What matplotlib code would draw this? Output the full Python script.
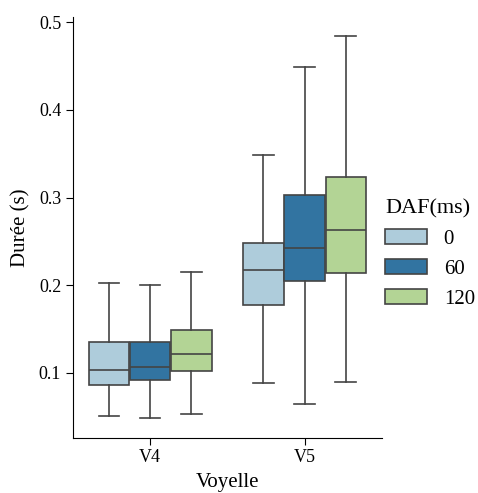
import colorsys
import matplotlib
matplotlib.use('Agg')
import matplotlib.pyplot as plt
import matplotlib.colors as mcolors
from matplotlib.patches import Patch

plt.rcParams['font.family'] = ['Liberation Serif', 'DejaVu Serif']

# Data (box stats per vowel and DAF level)
voyelles = ['V4', 'V5']
daf_levels = ['0', '60', '120']
# each row: [whislo, q1, median, q3, whishi], one row per DAF level
stats_v4 = [
    [0.051, 0.086, 0.1034, 0.1355, 0.2028],
    [0.0482, 0.0913, 0.1072, 0.1355, 0.1998],
    [0.0527, 0.1023, 0.1219, 0.149, 0.2149],
]
stats_v5 = [
    [0.0879, 0.1774, 0.2176, 0.2477, 0.3485],
    [0.0649, 0.2047, 0.2429, 0.3033, 0.449],
    [0.089, 0.2136, 0.263, 0.323, 0.484],
]
base_colors = ['#a6cee3', '#1f78b4', '#b2df8a']


def desaturate(c, prop=0.75):
    r, g, b = mcolors.to_rgb(c)
    h, l, s = colorsys.rgb_to_hls(r, g, b)
    return colorsys.hls_to_rgb(h, l, s * prop)


colors = [desaturate(c) for c in base_colors]
edge = '#444444'

fig = plt.figure(figsize=(4.78, 4.93), dpi=100)
ax = fig.add_axes([0.1527, 0.1122, 0.646, 0.8533])

width = 0.8 / 3
for i, stats in enumerate([stats_v4, stats_v5]):
    for j, s in enumerate(stats):
        pos = i + (j - 1) * width
        d = dict(whislo=s[0], q1=s[1], med=s[2], q3=s[3], whishi=s[4], fliers=[])
        ax.bxp([d], positions=[pos], widths=width * 0.98, patch_artist=True,
               showfliers=False, manage_ticks=False,
               boxprops=dict(facecolor=colors[j], edgecolor=edge, linewidth=1.2),
               medianprops=dict(color=edge, linewidth=1.2),
               whiskerprops=dict(color=edge, linewidth=1.2),
               capprops=dict(color=edge, linewidth=1.2),
               capwidths=width / 2)

ax.set_xlim(-0.5, 1.5)
ax.set_ylim(0.026, 0.506)
ax.set_xticks(range(len(voyelles)))
ax.set_xticklabels(voyelles)
ax.set_yticks([0.1, 0.2, 0.3, 0.4, 0.5])
ax.set_yticklabels(['0.1', '0.2', '0.3', '0.4', '0.5'])
ax.tick_params(labelsize=13, length=5)
ax.spines['top'].set_visible(False)
ax.spines['right'].set_visible(False)
ax.set_xlabel('Voyelle', fontsize=15, labelpad=5)
ax.set_ylabel('Durée (s)', fontsize=15, labelpad=6)

handles = [Patch(facecolor=colors[j], edgecolor=edge, linewidth=1.2) for j in range(3)]
leg = fig.legend(handles, daf_levels, title='DAF(ms)', loc='center left',
                 bbox_to_anchor=(0.78, 0.485), frameon=False, fontsize=15,
                 title_fontsize=16, handlelength=2.0, handletextpad=0.8,
                 borderaxespad=0.2)
leg._legend_box.align = 'left'

fig.savefig('out.png', dpi=100)
